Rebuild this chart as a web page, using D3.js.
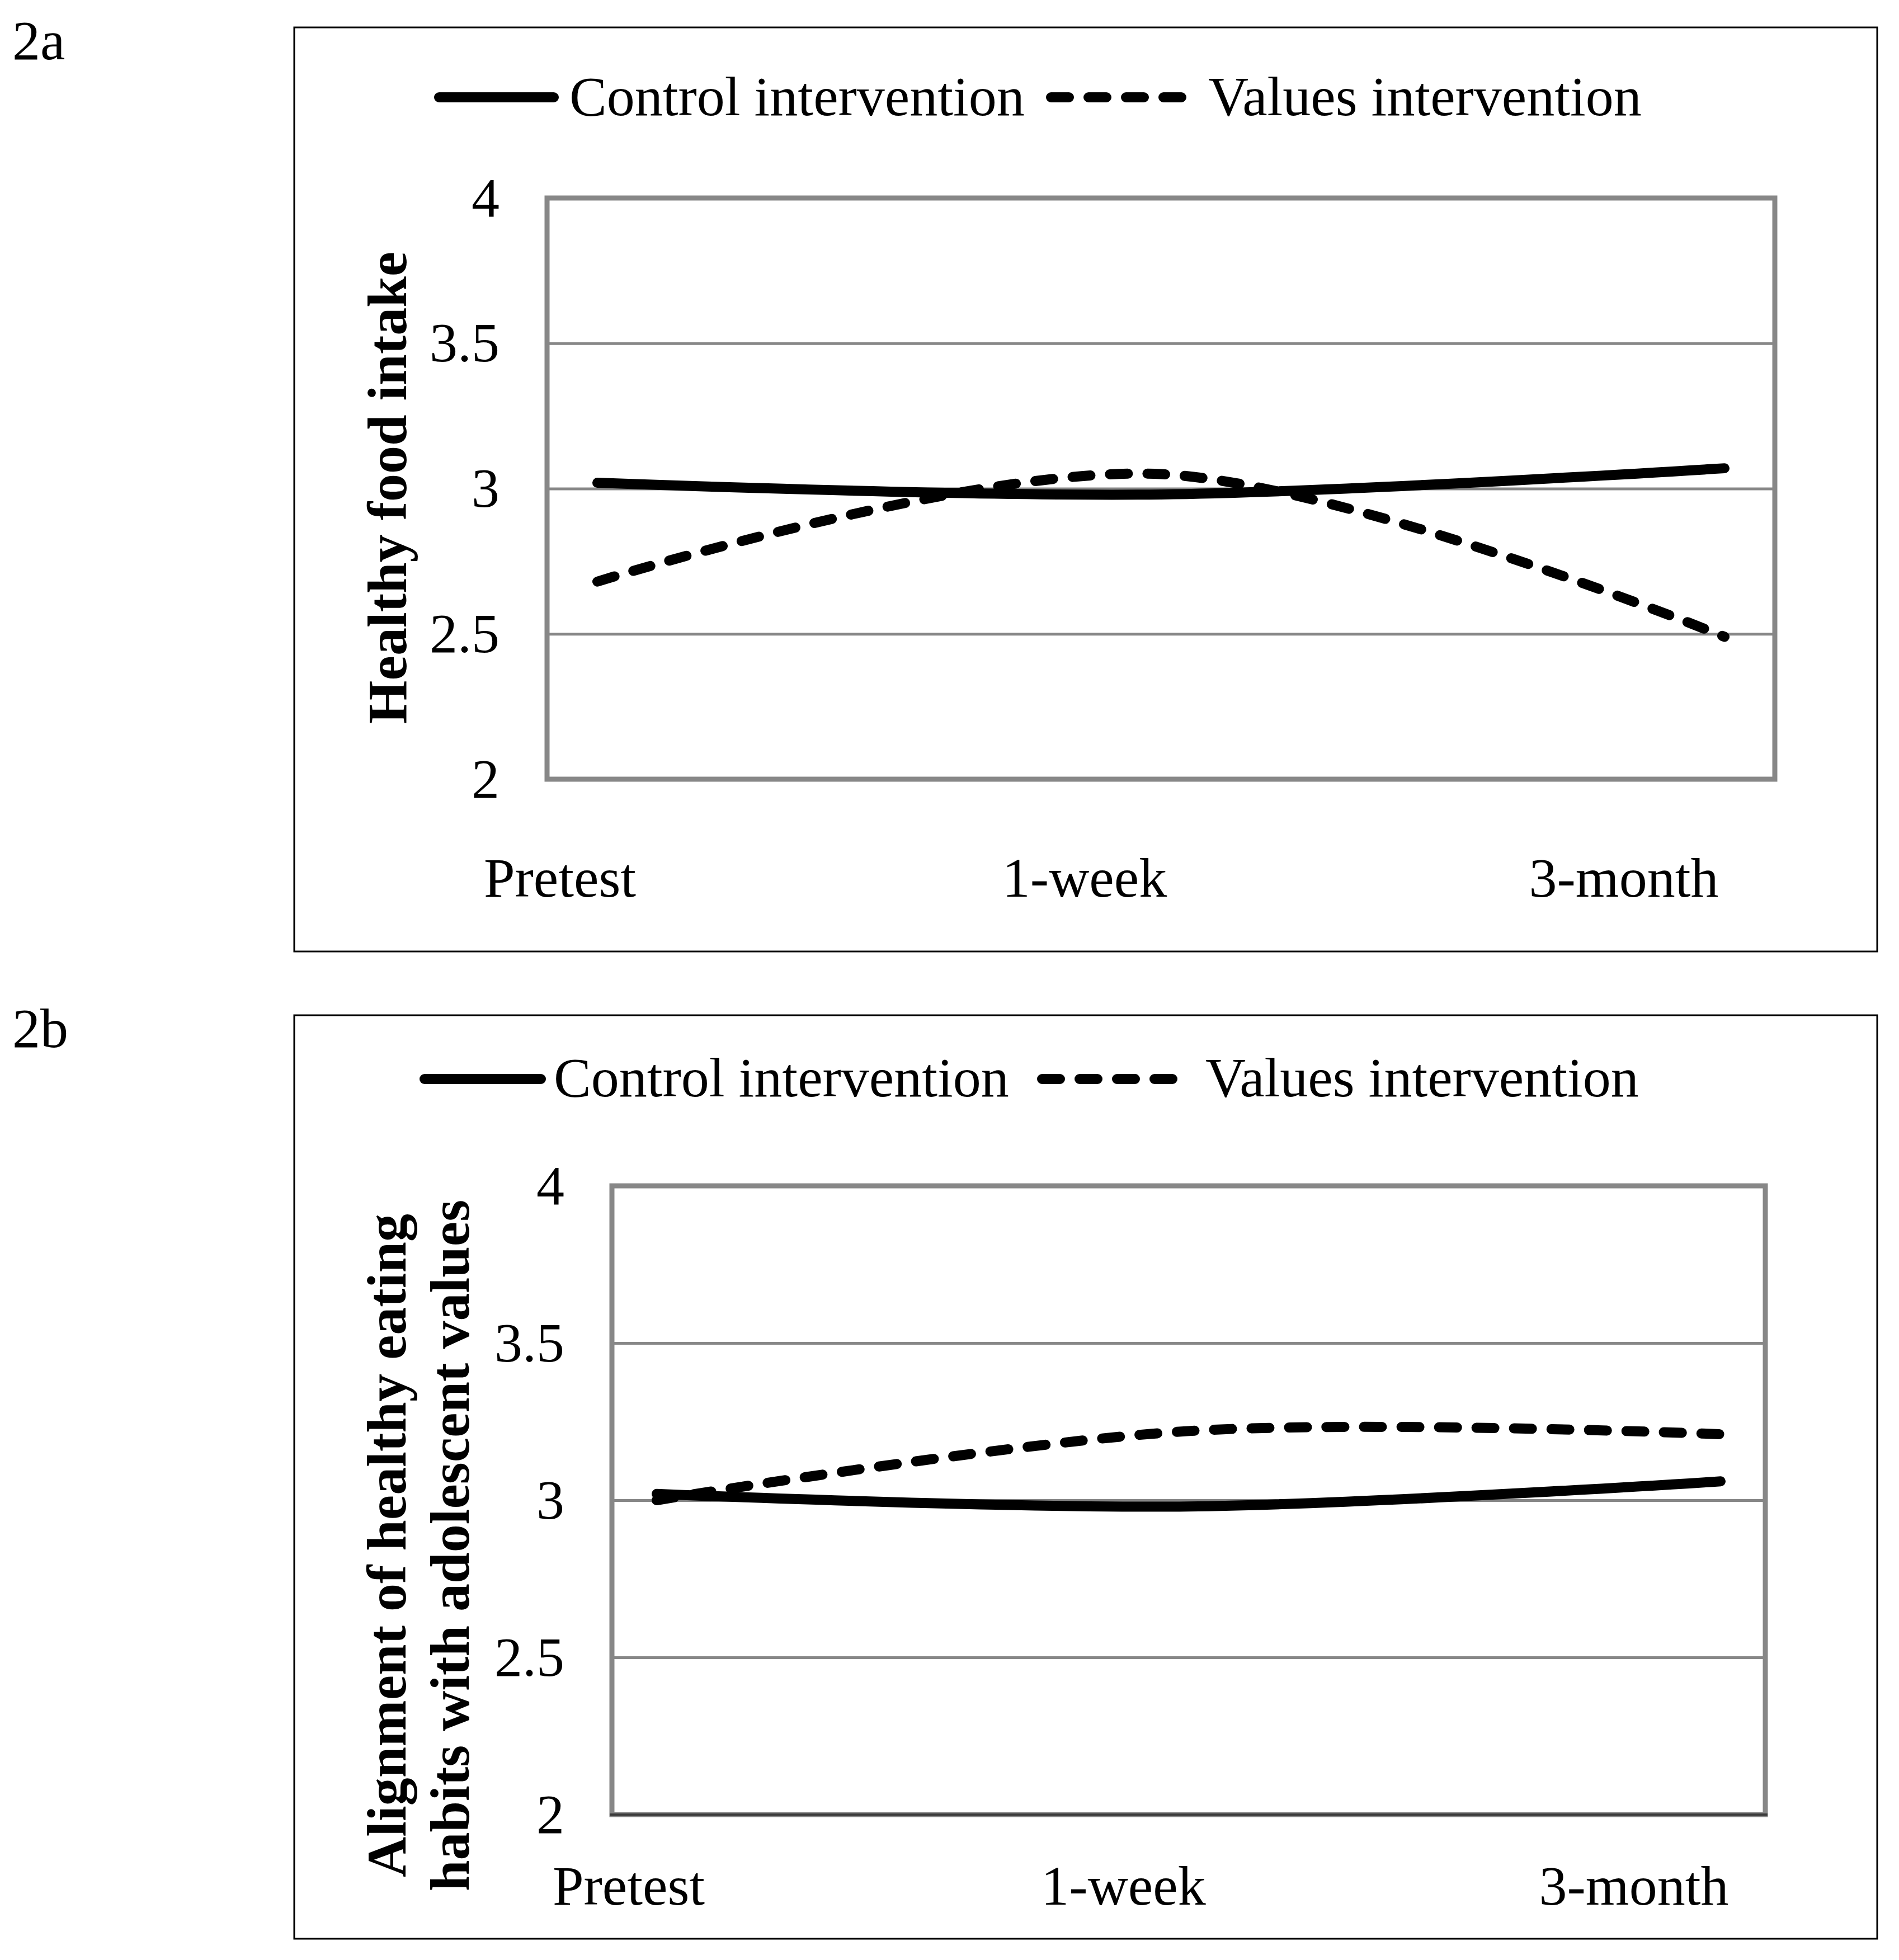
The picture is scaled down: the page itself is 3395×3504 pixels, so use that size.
<!DOCTYPE html>
<html>
<head>
<meta charset="utf-8">
<script src="https://cdn.jsdelivr.net/npm/d3@7"></script>
<style>
  body { margin: 0; background: #fff; }
  svg text { font-family: "Liberation Serif", "Times New Roman", serif; fill: #000; }
</style>
</head>
<body>
<div id="chart"></div>
<script>
// data
const categories = ["Pretest", "1-week", "3-month"];
const seriesNames = ["Control intervention", "Values intervention"];
const yTicks = [2, 2.5, 3, 3.5, 4];

// 2a: healthy food intake
const intakeControl = [3.02, 2.98, 3.07];
const intakeValues = [2.68, 3.05, 2.49];

// 2b: alignment of healthy eating with values
const alignControl = [3.02, 2.98, 3.06];
const alignValues = [3.0, 3.22, 3.21];

const W = 3395, H = 3504;
const GRID = "#878787";
const LINE_W = 18;
const DASH = "32 35";

const svg = d3.select("#chart").append("svg")
    .attr("width", W).attr("height", H);

// layout of each panel (pixels)
const panels = [
    {
        tag: "2a", tagY: 106,
        box: {x: 526, y: 49, w: 2830, h: 1652},
        plot: {l: 978, r: 3173, t: 354, b: 1393},
        pad: 90,
        labelRange: [1001, 2903], labelNudge: [0, -13, 0], labelY: 1603,
        title: ["Healthy food intake"], titleX: [726], titleY: 872,
        legend: {y: 174, base: 206, solid: [785, 990], t1: 1018, dash: [1879, 2112], t2: 2160},
        control: intakeControl, values: intakeValues,
        darkBase: false
    },
    {
        tag: "2b", tagY: 1872,
        box: {x: 526, y: 1815, w: 2830, h: 1651},
        plot: {l: 1094, r: 3156, t: 2120, b: 3244},
        pad: 80,
        labelRange: [1124, 2921], labelNudge: [0, -14, 0], labelY: 3405,
        title: ["Alignment of healthy eating", "habits with adolescent values"],
        titleX: [725, 838], titleY: 2763,
        legend: {y: 1929, base: 1960, solid: [759, 967], t1: 990, dash: [1863, 2096], t2: 2155},
        control: alignControl, values: alignValues,
        darkBase: true
    }
];

function drawPanel(p) {
    const g = svg.append("g");

    // panel tag
    g.append("text").attr("x", 22).attr("y", p.tagY)
        .style("font-size", "100px").text(p.tag);

    // outer frame
    g.append("rect")
        .attr("x", p.box.x).attr("y", p.box.y)
        .attr("width", p.box.w).attr("height", p.box.h)
        .attr("fill", "none").attr("stroke", "#000").attr("stroke-width", 3);

    const x = d3.scalePoint().domain(categories)
        .range([p.plot.l + p.pad, p.plot.r - p.pad]);
    const y = d3.scaleLinear().domain([2, 4]).range([p.plot.b, p.plot.t]);
    const xl = d3.scalePoint().domain(categories).range(p.labelRange);

    // y axis with gridlines
    const yAxis = d3.axisLeft(y).tickValues(yTicks)
        .tickSize(-(p.plot.r - p.plot.l)).tickPadding(85)
        .tickFormat(d3.format("~g"));
    const ag = g.append("g").attr("transform", `translate(${p.plot.l},0)`).call(yAxis);
    ag.select(".domain").remove();
    ag.selectAll(".tick line").attr("stroke", GRID).attr("stroke-width", 5);
    ag.selectAll(".tick text")
        .attr("font-family", null).attr("font-size", null)
        .style("font-size", "100px").attr("fill", "#000");

    // plot border
    g.append("rect")
        .attr("x", p.plot.l).attr("y", p.plot.t)
        .attr("width", p.plot.r - p.plot.l).attr("height", p.plot.b - p.plot.t)
        .attr("fill", "none").attr("stroke", GRID).attr("stroke-width", 9);
    if (p.darkBase) {
        g.append("line")
            .attr("x1", p.plot.l - 4).attr("x2", p.plot.r + 4)
            .attr("y1", p.plot.b).attr("y2", p.plot.b)
            .attr("stroke", "#3a3a3a").attr("stroke-width", 4);
    }

    // category labels
    g.selectAll("text.cat").data(categories).join("text")
        .attr("class", "cat")
        .attr("x", (d, i) => xl(d) + p.labelNudge[i]).attr("y", p.labelY)
        .attr("text-anchor", "middle")
        .style("font-size", "100px")
        .text(d => d);

    // y title (rotated)
    const tt = g.append("text")
        .attr("transform", `translate(0,${p.titleY}) rotate(-90)`)
        .attr("text-anchor", "middle")
        .style("font-size", "100px").style("font-weight", "bold");
    p.title.forEach((line, i) => {
        tt.append("tspan").attr("x", 0).attr("y", p.titleX[i]).text(line);
    });

    // smoothed lines
    const line = d3.line()
        .x((d, i) => x(categories[i]))
        .y(d => y(d))
        .curve(d3.curveCardinal.tension(0));

    g.append("path").datum(p.control)
        .attr("d", line).attr("fill", "none")
        .attr("stroke", "#000").attr("stroke-width", LINE_W)
        .attr("stroke-linecap", "round").attr("stroke-linejoin", "round");
    g.append("path").datum(p.values)
        .attr("d", line).attr("fill", "none")
        .attr("stroke", "#000").attr("stroke-width", LINE_W)
        .attr("stroke-dasharray", DASH)
        .attr("stroke-linecap", "round").attr("stroke-linejoin", "round");

    // legend
    const L = p.legend;
    g.append("line").attr("x1", L.solid[0]).attr("x2", L.solid[1])
        .attr("y1", L.y).attr("y2", L.y)
        .attr("stroke", "#000").attr("stroke-width", LINE_W).attr("stroke-linecap", "round");
    g.append("text").attr("x", L.t1).attr("y", L.base)
        .style("font-size", "100px").text(seriesNames[0]);
    g.append("line").attr("x1", L.dash[0]).attr("x2", L.dash[1])
        .attr("y1", L.y).attr("y2", L.y)
        .attr("stroke", "#000").attr("stroke-width", LINE_W)
        .attr("stroke-dasharray", DASH).attr("stroke-linecap", "round");
    g.append("text").attr("x", L.t2).attr("y", L.base)
        .style("font-size", "100px").text(seriesNames[1]);
}

panels.forEach(drawPanel);
</script>
</body>
</html>
